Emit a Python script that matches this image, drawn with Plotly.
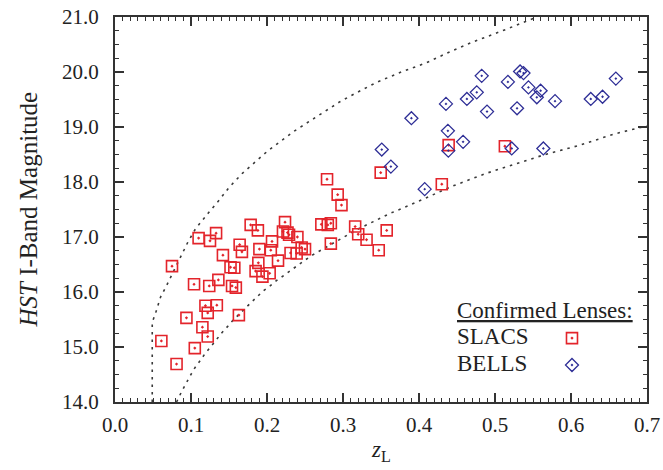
import plotly.graph_objects as go

# ---------------- data ----------------
slacs_z = [0.061, 0.075, 0.081, 0.094, 0.104, 0.105, 0.110, 0.115, 0.119, 0.122,
           0.122, 0.124, 0.125, 0.133, 0.134, 0.136, 0.142, 0.152, 0.157, 0.154,
           0.159, 0.163, 0.164, 0.167, 0.1785, 0.188, 0.190, 0.1886, 0.185, 0.194,
           0.2035, 0.2066, 0.205, 0.2145, 0.2237, 0.221, 0.227, 0.229, 0.240, 0.231,
           0.239, 0.2456, 0.250, 0.279, 0.293, 0.298, 0.2715, 0.284, 0.280, 0.316,
           0.320, 0.331, 0.3575, 0.347, 0.284, 0.3496, 0.439, 0.430, 0.513]
slacs_mag = [15.11, 16.47, 14.69, 15.53, 16.14, 14.98, 16.98, 15.36, 15.75, 15.62,
             15.19, 16.11, 16.93, 17.07, 15.76, 16.22, 16.67, 16.45, 16.44, 16.11,
             16.08, 15.58, 16.86, 16.73, 17.22, 17.12, 16.78, 16.53, 16.38, 16.28,
             16.34, 16.92, 16.76, 16.57, 17.27, 17.10, 17.08, 17.04, 17.00, 16.71,
             16.70, 16.81, 16.78, 18.05, 17.77, 17.58, 17.23, 17.25, 17.22, 17.19,
             17.05, 16.95, 17.12, 16.76, 16.88, 18.17, 18.67, 17.96, 18.65]

bells_z = [0.351, 0.363, 0.390, 0.4075, 0.438, 0.4386, 0.458, 0.4355, 0.463, 0.476,
           0.4825, 0.4895, 0.517, 0.533, 0.5375, 0.544, 0.560, 0.555, 0.529, 0.579,
           0.626, 0.6415, 0.659, 0.522, 0.5636]
bells_mag = [18.59, 18.28, 19.16, 17.87, 18.93, 18.57, 18.73, 19.42, 19.51, 19.63,
             19.93, 19.28, 19.82, 20.01, 19.98, 19.72, 19.66, 19.54, 19.34, 19.47,
             19.51, 19.55, 19.88, 18.61, 18.61]

upper_z = [0.049, 0.049, 0.0535, 0.060, 0.068, 0.0776, 0.0864, 0.096, 0.106, 0.115,
           0.123, 0.137, 0.150, 0.167, 0.183, 0.2005, 0.218, 0.2364, 0.2566, 0.296,
           0.316, 0.344, 0.375, 0.410, 0.441, 0.4715, 0.51, 0.555]
upper_mag = [14.0, 15.45, 15.62, 15.91, 16.12, 16.40, 16.65, 16.91, 17.15, 17.31,
             17.44, 17.67, 17.90, 18.15, 18.35, 18.56, 18.74, 18.93, 19.11, 19.46,
             19.61, 19.81, 19.99, 20.17, 20.37, 20.55, 20.75, 21.0]

lower_z = [0.081, 0.0877, 0.0987, 0.105, 0.112, 0.118, 0.1316, 0.140, 0.148, 0.1535,
           0.171, 0.179, 0.187, 0.195, 0.204, 0.2127, 0.223, 0.2316, 0.241, 0.250,
           0.2596, 0.2697, 0.2886, 0.299, 0.319, 0.340, 0.3605, 0.381, 0.401, 0.445,
           0.489, 0.509, 0.5636, 0.612, 0.656, 0.700]
lower_mag = [14.0, 14.19, 14.47, 14.62, 14.75, 14.87, 15.10, 15.25, 15.37, 15.46,
             15.70, 15.81, 15.91, 16.02, 16.11, 16.21, 16.31, 16.40, 16.49, 16.58,
             16.67, 16.75, 16.91, 16.99, 17.14, 17.28, 17.42, 17.54, 17.66, 17.93,
             18.16, 18.25, 18.49, 18.67, 18.87, 19.02]

x_ticks = [0.0, 0.1, 0.2, 0.3, 0.4, 0.5, 0.6, 0.7]
x_tick_labels = ["0.0", "0.1", "0.2", "0.3", "0.4", "0.5", "0.6", "0.7"]
y_ticks = [14, 15, 16, 17, 18, 19, 20, 21]
y_tick_labels = ["14.0", "15.0", "16.0", "17.0", "18.0", "19.0", "20.0", "21.0"]

legend_names = ["SLACS", "BELLS"]
legend_key_x = [0.859, 0.859]
legend_key_y = [0.166, 0.096]

# ---------------- style ----------------
FONT = "Liberation Serif"
TXT = "#222222"
AX = "#333333"
RED = "#e3242b"
BLUE = "#2e2e96"
DOT = "#3a3a3a"

fig = go.Figure()

for cz, cm in [(upper_z, upper_mag), (lower_z, lower_mag)]:
    fig.add_trace(go.Scatter(x=cz, y=cm, mode="lines",
                             line=dict(color=DOT, width=1.6, dash="2.5px,5px"),
                             hoverinfo="skip", showlegend=False, cliponaxis=True))

fig.add_trace(go.Scatter(x=slacs_z, y=slacs_mag, mode="markers", name="SLACS",
                         marker=dict(symbol="square-open-dot", size=11, color=RED,
                                     line=dict(width=1.6, color=RED)),
                         showlegend=False))
fig.add_trace(go.Scatter(x=bells_z, y=bells_mag, mode="markers", name="BELLS",
                         marker=dict(symbol="diamond-open-dot", size=10, color=BLUE,
                                     line=dict(width=1.3, color=BLUE)),
                         showlegend=False))

# legend keys on an overlay axis (paper-like 0..1)
fig.add_trace(go.Scatter(x=[legend_key_x[0]], y=[legend_key_y[0]], xaxis="x2", yaxis="y2",
                         mode="markers", showlegend=False, hoverinfo="skip",
                         marker=dict(symbol="square-open-dot", size=11, color=RED,
                                     line=dict(width=1.6, color=RED))))
fig.add_trace(go.Scatter(x=[legend_key_x[1]], y=[legend_key_y[1]], xaxis="x2", yaxis="y2",
                         mode="markers", showlegend=False, hoverinfo="skip",
                         marker=dict(symbol="diamond-open-dot", size=10, color=BLUE,
                                     line=dict(width=1.3, color=BLUE))))

axis_common = dict(showline=True, linewidth=2, linecolor=AX, mirror="ticks",
                   ticks="inside", tickcolor=AX, tickwidth=1.5, ticklen=9,
                   showgrid=False, zeroline=False, automargin=False,
                   tickfont=dict(family=FONT, size=21, color=TXT))

fig.update_layout(
    template="none",
    width=663, height=470,
    margin=dict(l=115, r=16, t=17, b=68, autoexpand=False),
    paper_bgcolor="white", plot_bgcolor="white",
    showlegend=False,
    xaxis=dict(range=[0, 0.7], tickvals=x_ticks, ticktext=x_tick_labels,
               minor=dict(dtick=0.01, ticks="inside", ticklen=4, tickcolor=AX, tickwidth=1),
               ticklabelstandoff=3, **axis_common),
    yaxis=dict(range=[14, 21], tickvals=y_ticks, ticktext=y_tick_labels,
               minor=dict(dtick=0.25, ticks="inside", ticklen=4, tickcolor=AX, tickwidth=1),
               ticklabelstandoff=10, **axis_common),
    xaxis2=dict(overlaying="x", range=[0, 1], visible=False, anchor="y2", automargin=False),
    yaxis2=dict(overlaying="y", range=[0, 1], visible=False, anchor="x2", automargin=False),
)

ann_font = dict(family=FONT, size=23, color=TXT)
fig.add_annotation(x=0.639, y=0.238, xref="paper", yref="paper", showarrow=False,
                   xanchor="left", yanchor="middle", text="<u>Confirmed Lenses:</u>", font=ann_font)
fig.add_annotation(x=0.639, y=0.170, xref="paper", yref="paper", showarrow=False,
                   xanchor="left", yanchor="middle", text=legend_names[0], font=ann_font)
fig.add_annotation(x=0.639, y=0.100, xref="paper", yref="paper", showarrow=False,
                   xanchor="left", yanchor="middle", text=legend_names[1], font=ann_font)
fig.add_annotation(x=-0.1635, y=0.5, xref="paper", yref="paper", showarrow=False,
                   textangle=-90, xanchor="center", yanchor="middle",
                   text="<i>HST</i> I-Band Magnitude", font=dict(family=FONT, size=25, color=TXT))
fig.add_annotation(x=0.5, y=-0.128, xref="paper", yref="paper", showarrow=False,
                   xanchor="center", yanchor="middle",
                   text="<i>z</i><sub>L</sub>", font=dict(family=FONT, size=23, color=TXT))

fig.write_html("out.html")
